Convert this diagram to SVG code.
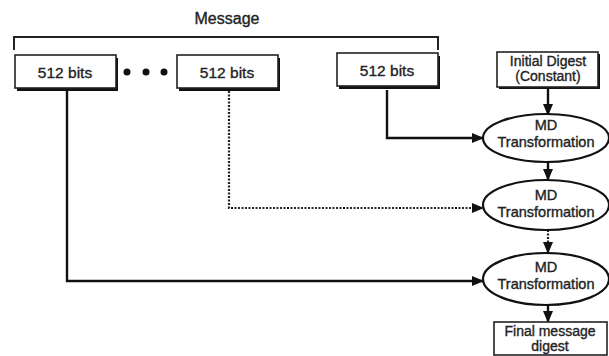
<svg xmlns="http://www.w3.org/2000/svg" width="609" height="356" viewBox="0 0 609 356">
<defs>
<marker id="ah" markerUnits="userSpaceOnUse" markerWidth="12" markerHeight="10" refX="11" refY="5" orient="auto">
<path d="M0,0 L12,5 L0,10 Z" fill="#111"/>
</marker>
<style>
text{font-family:"Liberation Sans",Arial,sans-serif;fill:#222;stroke:#222;stroke-width:0.35;text-anchor:middle}
.box{fill:#fff;stroke:#222;stroke-width:1.6}
.sh{fill:#111}
.ell{fill:#fff;stroke:#111;stroke-width:2.2}
.ln{fill:none;stroke:#111;stroke-width:2.4}
.dot{fill:none;stroke:#222;stroke-width:2.2;stroke-dasharray:2 1.5}
</style>
</defs>
<rect width="609" height="356" fill="#fff"/>
<g id="message">
<text x="227" y="24" font-size="16">Message</text>
<path d="M14,50 V37 H438 V50" fill="none" stroke="#222" stroke-width="2"/>
</g>
<g id="connectors">
<path class="ln" d="M387,90 V138 H483" marker-end="url(#ah)"/>
<path class="dot" d="M229,91 V208 H483" marker-end="url(#ah)"/>
<path class="ln" d="M67,91 V281 H483" marker-end="url(#ah)"/>
<path class="ln" d="M548,88 V115" marker-end="url(#ah)"/>
<path class="ln" d="M548,162 V180" marker-end="url(#ah)"/>
<path class="dot" d="M548,230 V253" marker-end="url(#ah)"/>
<path class="ln" d="M548,305 V322" marker-end="url(#ah)"/>
</g>
<g id="block1">
<rect class="sh" x="17" y="58" width="101" height="33"/>
<rect class="box" x="15" y="55" width="101" height="33"/>
<text x="65" y="78" font-size="15.5">512 bits</text>
</g>
<g id="dots">
<circle cx="127" cy="72" r="3.5" fill="#111"/>
<circle cx="146" cy="72" r="3.5" fill="#111"/>
<circle cx="164" cy="72" r="3.5" fill="#111"/>
</g>
<g id="block2">
<rect class="sh" x="179" y="58" width="101" height="33"/>
<rect class="box" x="177" y="55" width="101" height="33"/>
<text x="227" y="78" font-size="15.5">512 bits</text>
</g>
<g id="block3">
<rect class="sh" x="339" y="56" width="101" height="33"/>
<rect class="box" x="337" y="53" width="101" height="33"/>
<text x="387" y="76" font-size="15.5">512 bits</text>
</g>
<g id="initial">
<rect class="sh" x="499" y="54" width="101" height="35"/>
<rect class="box" x="497" y="52" width="101" height="35"/>
<text x="548" y="66" font-size="14">Initial Digest</text>
<text x="548" y="81" font-size="14">(Constant)</text>
</g>
<g id="md1">
<ellipse class="ell" cx="546" cy="138" rx="63" ry="24"/>
<text x="546" y="130" font-size="14.5">MD</text>
<text x="546" y="147" font-size="14.5">Transformation</text>
</g>
<g id="md2">
<ellipse class="ell" cx="546" cy="205" rx="63" ry="25"/>
<text x="546" y="200" font-size="14.5">MD</text>
<text x="546" y="217" font-size="14.5">Transformation</text>
</g>
<g id="md3">
<ellipse class="ell" cx="546" cy="279" rx="63" ry="26"/>
<text x="546" y="272" font-size="14.5">MD</text>
<text x="546" y="289" font-size="14.5">Transformation</text>
</g>
<g id="final">
<rect class="box" x="494" y="322" width="113" height="33"/>
<text x="550" y="336" font-size="14">Final message</text>
<text x="550" y="351" font-size="14">digest</text>
</g>
</svg>
